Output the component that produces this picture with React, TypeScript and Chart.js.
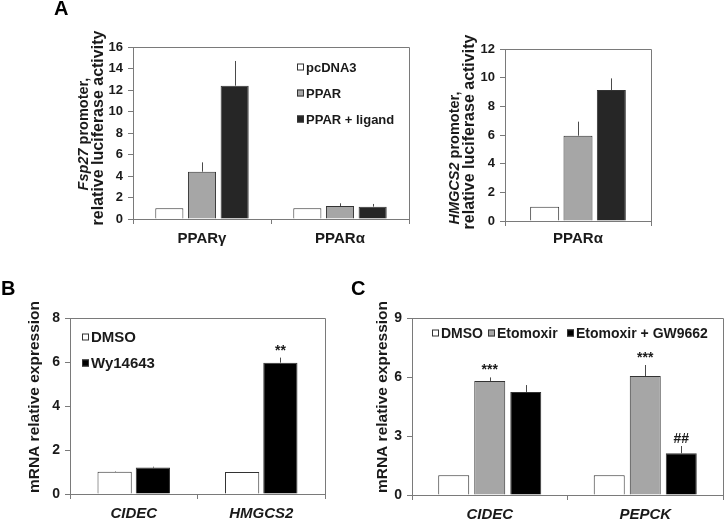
import React, { useEffect, useRef } from "react";
import { Chart, registerables } from "chart.js";
Chart.register(...registerables);

const W = 726;
const H = 519;
const FONT = "'Liberation Sans', Arial, sans-serif";

// ---------- Panel A (left): Fsp27 promoter ----------
const a1Categories = ["PPARγ", "PPARα"];
const a1Series = ["pcDNA3", "PPAR", "PPAR + ligand"];
const a1Pcdna3 = [1.0, 1.0];
const a1Ppar = [4.4, 1.21];
const a1PparErr = [5.27, 1.46];
const a1Ligand = [12.4, 1.15];
const a1LigandErr = [14.7, 1.4];
const a1YMax = 16;
const a1YStep = 2;

// ---------- Panel A (right): HMGCS2 promoter ----------
const a2Categories = ["PPARα"];
const a2Pcdna3 = [1.0];
const a2Ppar = [5.95];
const a2PparErr = [6.93];
const a2Ligand = [9.14];
const a2LigandErr = [9.95];
const a2YMax = 12;
const a2YStep = 2;

// ---------- Panel B ----------
const bCategories = ["CIDEC", "HMGCS2"];
const bSeries = ["DMSO", "Wy14643"];
const bDmso = [1.01, 1.0];
const bDmsoErr = [1.03, 1.0];
const bWy = [1.2, 5.97];
const bWyErr = [1.24, 6.2];
const bWySig = ["", "**"];
const bYMax = 8;
const bYStep = 2;

// ---------- Panel C ----------
const cCategories = ["CIDEC", "PEPCK"];
const cSeries = ["DMSO", "Etomoxir", "Etomoxir + GW9662"];
const cDmso = [1.0, 1.0];
const cEto = [5.8, 6.05];
const cEtoErr = [5.98, 6.61];
const cEtoSig = ["***", "***"];
const cEtoGw = [5.24, 2.12];
const cEtoGwErr = [5.59, 2.49];
const cEtoGwSig = ["", "##"];
const cYMax = 9;
const cYStep = 3;

const WHITE = "#ffffff";
const GRAY = "#a6a6a6";
const DARK = "#262626";
const BLACK = "#000000";
const EDGE = "#333333";
const AXIS = "#7a7a7a";
const TEXT = "#1a1a1a";

type Part = { text: string; italic?: boolean };
type TitleLine = { parts: Part[]; x: number; cy: number; size: number };
type DS = { label: string; data: number[]; color: string; err?: number[]; sig?: string[] };
type Panel = {
  area: { left: number; top: number; right: number; bottom: number };
  yMax: number;
  yStep: number;
  categories: string[];
  italicX: boolean;
  xFont: number;
  xPad: number;
  tickFont: number;
  catPct: number;
  barPct: number;
  datasets: DS[];
  title: TitleLine[];
  legend: { x: number; y: number }[];
  legendFont: number;
  sigFont: number;
  letter?: { text: string; x: number; y: number };
};

const panels: Panel[] = [
  {
    area: { left: 133, top: 47, right: 409, bottom: 219 },
    yMax: a1YMax,
    yStep: a1YStep,
    categories: a1Categories,
    italicX: false,
    xFont: 15,
    xPad: 6,
    tickFont: 13,
    catPct: 0.71,
    barPct: 0.86,
    datasets: [
      { label: a1Series[0], data: a1Pcdna3, color: WHITE },
      { label: a1Series[1], data: a1Ppar, color: GRAY, err: a1PparErr },
      { label: a1Series[2], data: a1Ligand, color: DARK, err: a1LigandErr },
    ],
    title: [
      { parts: [{ text: "Fsp27", italic: true }, { text: " promoter," }], x: 84, cy: 134, size: 14.5 },
      { parts: [{ text: "relative luciferase activity" }], x: 99, cy: 128, size: 16 },
    ],
    legend: [
      { x: 297, y: 67 },
      { x: 297, y: 93 },
      { x: 297, y: 119 },
    ],
    legendFont: 13,
    sigFont: 14,
    letter: { text: "A", x: 54, y: 9 },
  },
  {
    area: { left: 505, top: 49, right: 651, bottom: 221 },
    yMax: a2YMax,
    yStep: a2YStep,
    categories: a2Categories,
    italicX: false,
    xFont: 15,
    xPad: 4,
    tickFont: 13,
    catPct: 0.685,
    barPct: 0.87,
    datasets: [
      { label: a1Series[0], data: a2Pcdna3, color: WHITE },
      { label: a1Series[1], data: a2Ppar, color: GRAY, err: a2PparErr },
      { label: a1Series[2], data: a2Ligand, color: DARK, err: a2LigandErr },
    ],
    title: [
      { parts: [{ text: "HMGCS2", italic: true }, { text: " promoter," }], x: 455, cy: 158, size: 14.5 },
      { parts: [{ text: "relative luciferase activity" }], x: 470, cy: 132, size: 16 },
    ],
    legend: [],
    legendFont: 13,
    sigFont: 14,
  },
  {
    area: { left: 70, top: 318, right: 325, bottom: 494 },
    yMax: bYMax,
    yStep: bYStep,
    categories: bCategories,
    italicX: true,
    xFont: 15,
    xPad: 6,
    tickFont: 14,
    catPct: 0.6,
    barPct: 0.895,
    datasets: [
      { label: bSeries[0], data: bDmso, color: WHITE, err: bDmsoErr },
      { label: bSeries[1], data: bWy, color: BLACK, err: bWyErr, sig: bWySig },
    ],
    title: [{ parts: [{ text: "mRNA relative expression" }], x: 35, cy: 397, size: 15.5 }],
    legend: [
      { x: 82, y: 337 },
      { x: 82, y: 363 },
    ],
    legendFont: 15,
    sigFont: 14,
    letter: { text: "B", x: 1, y: 289 },
  },
  {
    area: { left: 412, top: 318, right: 723, bottom: 495 },
    yMax: cYMax,
    yStep: cYStep,
    categories: cCategories,
    italicX: true,
    xFont: 15,
    xPad: 6,
    tickFont: 14,
    catPct: 0.695,
    barPct: 0.86,
    datasets: [
      { label: cSeries[0], data: cDmso, color: WHITE },
      { label: cSeries[1], data: cEto, color: GRAY, err: cEtoErr, sig: cEtoSig },
      { label: cSeries[2], data: cEtoGw, color: BLACK, err: cEtoGwErr, sig: cEtoGwSig },
    ],
    title: [{ parts: [{ text: "mRNA relative expression" }], x: 383, cy: 397, size: 15.5 }],
    legend: [
      { x: 432, y: 333 },
      { x: 488, y: 333 },
      { x: 567, y: 333 },
    ],
    legendFont: 14,
    sigFont: 14,
    letter: { text: "C", x: 351, y: 289 },
  },
];

const font = (size: number, italic = false) =>
  `${italic ? "italic " : ""}bold ${size}px ${FONT}`;

function makeConfig(p: Panel): any {
  const yW = 40;
  const xH = H - p.area.bottom;
  const extras = {
    id: "extras",
    afterDatasetsDraw(chart: any) {
      const ctx = chart.ctx as CanvasRenderingContext2D;
      const ca = chart.chartArea;
      const ys = chart.scales.y;
      ctx.save();
      // frame top and right
      ctx.strokeStyle = AXIS;
      ctx.lineWidth = 1;
      ctx.beginPath();
      ctx.moveTo(Math.round(ca.left) + 0.5, Math.round(ca.top) + 0.5);
      ctx.lineTo(Math.round(ca.right) + 0.5, Math.round(ca.top) + 0.5);
      ctx.lineTo(Math.round(ca.right) + 0.5, Math.round(ca.bottom) + 0.5);
      ctx.stroke();
      // error bars and significance marks
      p.datasets.forEach((ds, di) => {
        const meta = chart.getDatasetMeta(di);
        meta.data.forEach((el: any, i: number) => {
          let topPx = el.y;
          if (ds.err) {
            const ey = ys.getPixelForValue(ds.err[i]);
            const x = Math.round(el.x) + 0.5;
            ctx.strokeStyle = "#4a4a4a";
            ctx.lineWidth = 1;
            ctx.beginPath();
            ctx.moveTo(x, el.y);
            ctx.lineTo(x, ey);
            ctx.stroke();
            topPx = ey;
          }
          if (ds.sig && ds.sig[i]) {
            ctx.fillStyle = TEXT;
            ctx.font = font(p.sigFont);
            ctx.textAlign = "center";
            ctx.textBaseline = "alphabetic";
            ctx.fillText(ds.sig[i], el.x, topPx - 3);
          }
        });
      });
      // legend
      p.legend.forEach((pos, i) => {
        const ds = p.datasets[i];
        ctx.fillStyle = ds.color;
        ctx.fillRect(pos.x, pos.y - 3.5, 7, 7);
        ctx.strokeStyle = EDGE;
        ctx.lineWidth = 1;
        ctx.strokeRect(pos.x + 0.5, pos.y - 3, 6, 6);
        ctx.fillStyle = TEXT;
        ctx.font = font(p.legendFont);
        ctx.textAlign = "left";
        ctx.textBaseline = "middle";
        ctx.fillText(ds.label, pos.x + 9, pos.y + 1);
      });
      // y title
      p.title.forEach((line) => {
        ctx.save();
        ctx.translate(line.x, line.cy);
        ctx.rotate(-Math.PI / 2);
        let total = 0;
        line.parts.forEach((pt) => {
          ctx.font = font(line.size, !!pt.italic);
          total += ctx.measureText(pt.text).width;
        });
        let x = -total / 2;
        ctx.fillStyle = TEXT;
        ctx.textAlign = "left";
        ctx.textBaseline = "middle";
        line.parts.forEach((pt) => {
          ctx.font = font(line.size, !!pt.italic);
          ctx.fillText(pt.text, x, 0);
          x += ctx.measureText(pt.text).width;
        });
        ctx.restore();
      });
      // panel letter
      if (p.letter) {
        ctx.fillStyle = "#000";
        ctx.font = font(20);
        ctx.textAlign = "left";
        ctx.textBaseline = "middle";
        ctx.fillText(p.letter.text, p.letter.x, p.letter.y);
      }
      ctx.restore();
    },
  };

  return {
    type: "bar",
    data: {
      labels: p.categories,
      datasets: p.datasets.map((ds) => ({
        label: ds.label,
        data: ds.data,
        backgroundColor: ds.color,
        borderColor: EDGE,
        borderWidth: 1,
        borderSkipped: "bottom",
        categoryPercentage: p.catPct,
        barPercentage: p.barPct,
      })),
    },
    options: {
      responsive: false,
      animation: false,
      events: [],
      layout: {
        padding: {
          left: p.area.left - yW,
          top: p.area.top,
          right: W - p.area.right,
          bottom: 0,
        },
      },
      plugins: { legend: { display: false }, tooltip: { enabled: false }, title: { display: false } },
      scales: {
        x: {
          type: "category",
          offset: true,
          afterFit: (s: any) => {
            s.height = xH;
          },
          grid: { display: true, drawOnChartArea: false, drawTicks: true, tickLength: 5, color: AXIS, offset: true },
          border: { color: AXIS },
          ticks: { color: TEXT, font: { family: FONT, size: p.xFont, weight: "bold", style: p.italicX ? "italic" : "normal" }, padding: p.xPad },
        },
        y: {
          min: 0,
          max: p.yMax,
          afterFit: (s: any) => {
            s.width = yW;
          },
          grid: { display: true, drawOnChartArea: false, drawTicks: true, tickLength: 5, color: AXIS },
          border: { color: AXIS },
          ticks: { stepSize: p.yStep, color: TEXT, font: { family: FONT, size: p.tickFont, weight: "bold" }, padding: 5 },
        },
      },
    },
    plugins: [extras],
  };
}

function PanelCanvas({ panel }: { panel: Panel }) {
  const ref = useRef<HTMLCanvasElement | null>(null);
  useEffect(() => {
    if (!ref.current) return;
    const chart = new Chart(ref.current, makeConfig(panel));
    return () => chart.destroy();
  }, [panel]);
  return (
    <canvas
      ref={ref}
      width={W}
      height={H}
      style={{ position: "absolute", left: 0, top: 0, width: W, height: H }}
    />
  );
}

export default function App() {
  return (
    <div style={{ position: "fixed", left: 0, top: 0, width: W, height: H, background: "#fff", overflow: "hidden" }}>
      {panels.map((p, i) => (
        <PanelCanvas key={i} panel={p} />
      ))}
    </div>
  );
}
